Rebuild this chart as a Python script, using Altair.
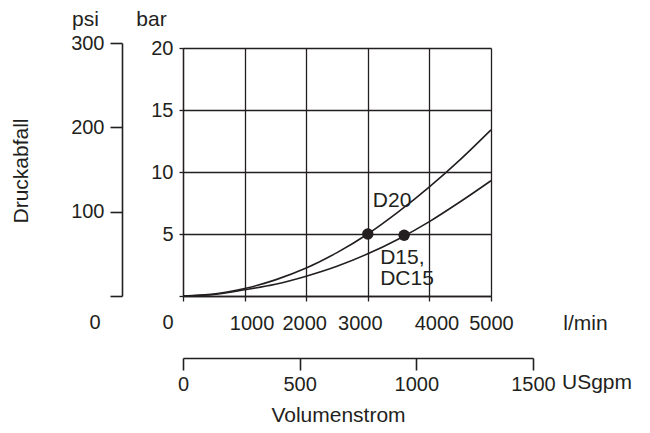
import altair as alt
import pandas as pd

# ---- data ----
flow_lmin = [0, 500, 1000, 1500, 2000, 2500, 3000, 3500, 4000, 4500, 5000]
d20_bar = [0, 0.15, 0.6, 1.3, 2.25, 3.5, 5.0, 6.8, 8.8, 11.0, 13.4]
d15_bar = [0, 0.12, 0.5, 0.95, 1.6, 2.4, 3.4, 4.6, 6.0, 7.6, 9.3]

point_names = ["D20", "D15"]
point_flow = [3000, 3590]
point_bar = [5.0, 4.9]
point_labels = ["D20", "D15,\nDC15"]

lmin_ticks = [0, 1000, 2000, 3000, 4000, 5000]
bar_ticks = [0, 5, 10, 15, 20]
psi_ticks = [0, 100, 200, 300]
usgpm_ticks = [0, 500, 1000, 1500]

INK = "#231f20"
FONT = "Liberation Sans"
FS = 20   # numbers
FW = 21   # words

curves = pd.DataFrame({
    "flow": flow_lmin * 2,
    "bar": d20_bar + d15_bar,
    "series": ["D20"] * len(flow_lmin) + ["D15"] * len(flow_lmin),
})
points = pd.DataFrame({"flow": point_flow, "bar": point_bar,
                       "name": point_names, "label": point_labels})
psi_df = pd.DataFrame({"psi": psi_ticks})
us_df = pd.DataFrame({"usgpm": usgpm_ticks})

x_main = alt.X(
    "flow:Q",
    scale=alt.Scale(domain=[0, 5000], nice=False, zero=True),
    axis=alt.Axis(
        values=lmin_ticks, format="d", labelOverlap=False, labelFlush=False,
        grid=True, gridColor=INK, gridWidth=1.3, gridOpacity=1,
        domainColor=INK, domainWidth=1.3, tickColor=INK, tickWidth=1.3, tickSize=5,
        labelFontSize=FS, labelPadding=12, labelColor=INK,
        labelExpr="datum.value == 0 ? '' : datum.label",
        labelOffset={"condition": [
            {"test": "datum.value == 1000", "value": 7},
            {"test": "datum.value == 2000", "value": -2},
            {"test": "datum.value == 3000", "value": -8},
            {"test": "datum.value == 4000", "value": 7},
        ], "value": 0},
        title="l/min", titleAngle=0, titleX=402, titleY=27,
        titleAlign="center", titleBaseline="middle",
        titleFontSize=FW, titleFontWeight="normal", titleColor=INK,
    ),
)
y_main = alt.Y(
    "bar:Q",
    scale=alt.Scale(domain=[0, 20], nice=False),
    axis=alt.Axis(
        values=bar_ticks, format="d", labelOverlap=False, labelFlush=False,
        grid=True, gridColor=INK, gridWidth=1.3, gridOpacity=1,
        domainColor=INK, domainWidth=1.3, tickColor=INK, tickWidth=1.3, tickSize=4,
        labelFontSize=FS, labelPadding=6, labelColor=INK,
        labelOffset={"condition": {"test": "datum.value == 0", "value": 26}, "value": 0},
        title="bar", titleAngle=0, titleX=-32, titleY=-29,
        titleAlign="center", titleBaseline="middle",
        titleFontSize=FW, titleFontWeight="normal", titleColor=INK,
    ),
)

lines = alt.Chart(curves).mark_line(
    color=INK, strokeWidth=1.6, interpolate="monotone"
).encode(x=x_main, y=y_main, detail="series:N")

dots = alt.Chart(points).mark_circle(size=130, color=INK, opacity=1).encode(
    x="flow:Q", y="bar:Q"
)

lab20 = alt.Chart(points).transform_filter("datum.name == 'D20'").mark_text(
    align="left", baseline="middle", dx=5, dy=-33, fontSize=FW, font=FONT, color=INK
).encode(x="flow:Q", y="bar:Q", text="label:N")

lab15 = alt.Chart(points).transform_filter("datum.name == 'D15'").mark_text(
    align="left", baseline="top", dx=-24, dy=12, lineBreak="\n", lineHeight=21,
    fontSize=FW, font=FONT, color=INK
).encode(x="flow:Q", y="bar:Q", text="label:N")

base = alt.layer(lines, dots, lab20, lab15)

psi_layer = alt.Chart(psi_df).mark_point(opacity=0).encode(
    y=alt.Y(
        "psi:Q",
        scale=alt.Scale(domain=[0, 300], range=[248, -5], nice=False),
        axis=alt.Axis(
            orient="left", offset=61, values=psi_ticks, format="d",
            labelOverlap=False, labelFlush=False, grid=False,
            domainColor=INK, domainWidth=1.6, tickColor=INK, tickWidth=1.6, tickSize=12,
            labelFontSize=FS, labelColor=INK,
            labelPadding={"condition": {"test": "datum.value == 0", "value": 10}, "value": 6},
            labelOffset={"condition": {"test": "datum.value == 0", "value": 26}, "value": 0},
            title="psi", titleAngle=0, titleX=-37, titleY=-29,
            titleAlign="center", titleBaseline="middle",
            titleFontSize=FW, titleFontWeight="normal", titleColor=INK,
        ),
    )
)

us_layer = alt.Chart(us_df).mark_point(opacity=0).encode(
    x=alt.X(
        "usgpm:Q",
        scale=alt.Scale(domain=[0, 1500], range=[0, 350], nice=False),
        axis=alt.Axis(
            orient="bottom", offset=62, values=usgpm_ticks, format="d",
            labelOverlap=False, labelFlush=False, grid=False,
            domainColor=INK, domainWidth=1.6, tickColor=INK, tickWidth=1.6, tickSize=12,
            labelFontSize=FS, labelPadding=4, labelColor=INK,
            title="Volumenstrom", titleX=155, titleY=57,
            titleAlign="center", titleBaseline="middle",
            titleFontSize=FW, titleFontWeight="normal", titleColor=INK,
        ),
    )
)

txt_df = pd.DataFrame({"t": ["Druckabfall"]})
druck = alt.Chart(txt_df).mark_text(
    angle=270, align="center", baseline="middle", fontSize=FW, font=FONT, color=INK
).encode(x=alt.value(-161), y=alt.value(123), text="t:N")

us_df_t = pd.DataFrame({"t": ["USgpm"]})
usg = alt.Chart(us_df_t).mark_text(
    align="center", baseline="middle", fontSize=FW, font=FONT, color=INK
).encode(x=alt.value(414), y=alt.value(335), text="t:N")

chart = alt.layer(base, psi_layer, us_layer, druck, usg).resolve_scale(
    x="independent", y="independent"
).properties(
    width=308, height=248,
    autosize=alt.AutoSizeParams(type="none"),
    padding={"left": 175, "top": 40, "right": 146, "bottom": 128},
).configure_view(stroke=None).configure_axis(
    labelFont=FONT, titleFont=FONT
).configure(background="white")

chart.save("out.html", embed_options={"renderer": "svg", "actions": False})
